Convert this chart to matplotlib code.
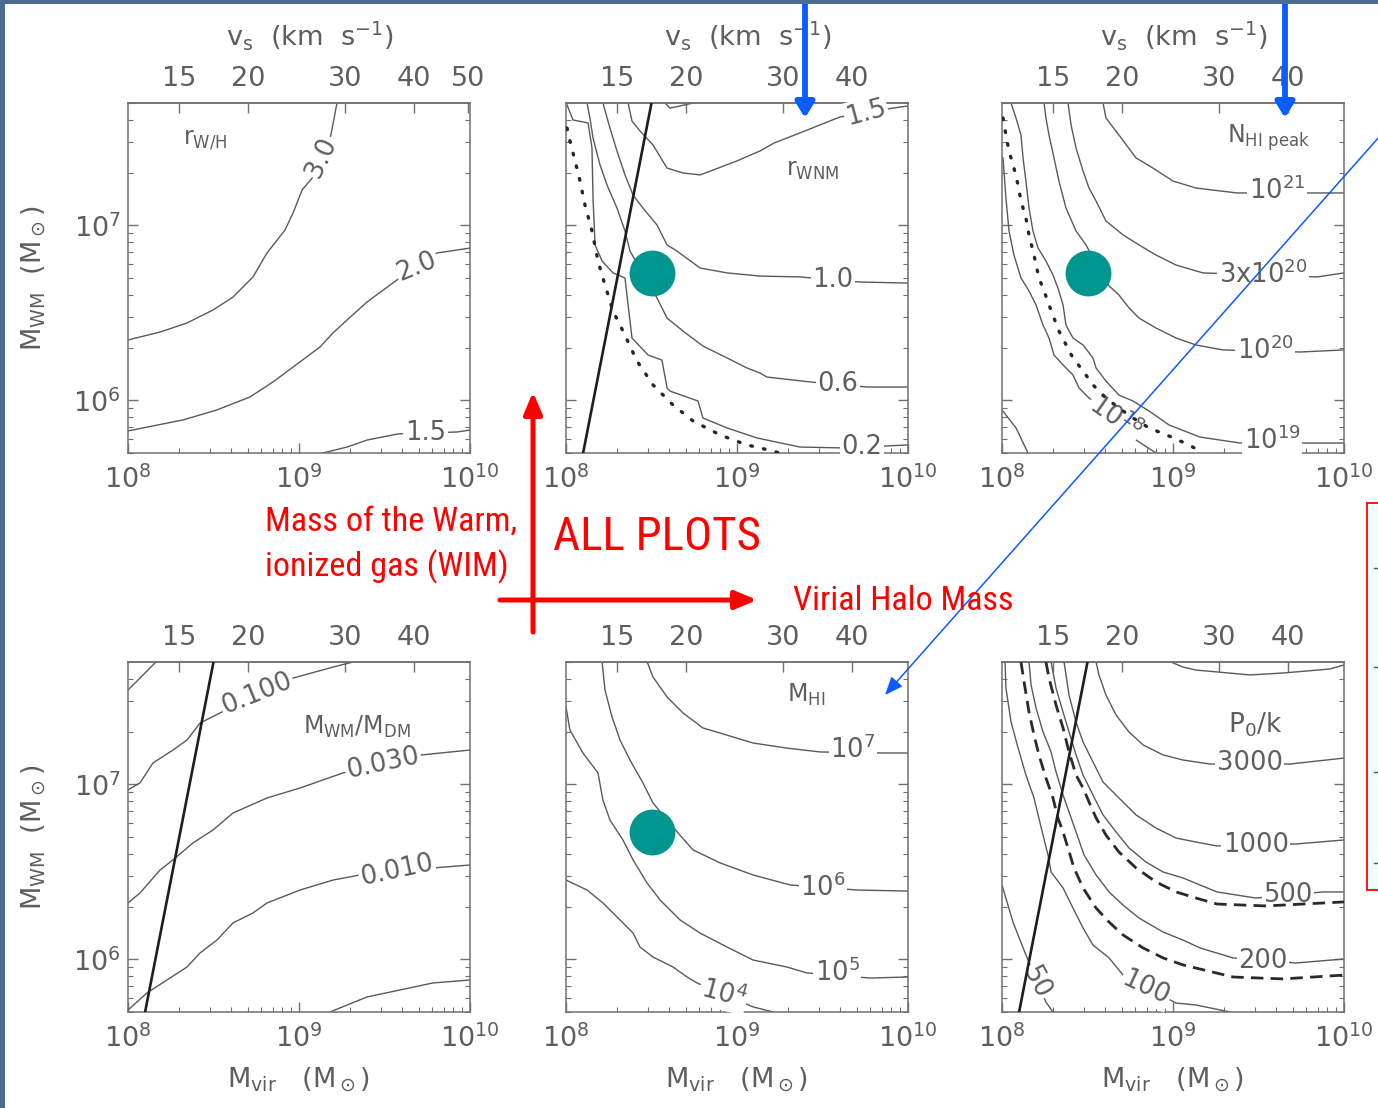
import numpy as np
import matplotlib
matplotlib.use("Agg")
import matplotlib.pyplot as plt
from matplotlib import font_manager
from matplotlib.font_manager import FontProperties
from matplotlib.patches import Rectangle, FancyArrowPatch
from matplotlib.lines import Line2D
from matplotlib.ticker import (FixedLocator, NullLocator, LogLocator,
                               FuncFormatter, NullFormatter)

# ------------------------------------------------------------------
# Axis ranges (halo virial mass, warm-gas mass) and shock-speed ticks
# ------------------------------------------------------------------
MVIR_LIM = (1e8, 1e10)
MWM_LIM = (5e5, 5e7)
VS_TICKS_FIRST = [15, 20, 30, 40, 50]
VS_TICKS = [15, 20, 30, 40]
VS_AT_1E10 = 50.5        # km/s at Mvir = 1e10
VS_SLOPE = 0.31          # d log v_s / d log Mvir

# Tracks below are (log10 Mvir, log10 M_WM) pairs

# bold reference line (panels r_WNM, M_WM/M_DM, P0/k)
ref_line = [(8.10, 5.699), (8.50, 7.699)]
# model galaxy
model_point = (8.50, 6.73)

# ---- r_W/H ----
rwh_3p0 = [(9.222, 7.699), (9.181, 7.488), (9.082, 7.276), (9.018, 7.202),
           (8.965, 7.070), (8.918, 6.973), (8.813, 6.842), (8.731, 6.705),
           (8.614, 6.590), (8.497, 6.516), (8.345, 6.442), (8.187, 6.390),
           (8.0, 6.345)]
rwh_2p0 = [(10.0, 6.870), (9.807, 6.842), (9.573, 6.688), (9.398, 6.562),
           (9.281, 6.459), (9.199, 6.385), (9.123, 6.305), (8.965, 6.190),
           (8.848, 6.105), (8.713, 6.019), (8.520, 5.945), (8.322, 5.888),
           (8.0, 5.825)]
rwh_1p5 = [(10.0, 5.830), (9.924, 5.819), (9.579, 5.808), (9.398, 5.773),
           (9.281, 5.733), (9.140, 5.699)]
rwh_labels = [("3.0", 9.13, 7.39, 65), ("2.0", 9.69, 6.765, 22),
              ("1.5", 9.74, 5.815, 0)]

# ---- r_WNM ----
wnm_1p5 = [(8.363, 7.699), (8.386, 7.596), (8.433, 7.539), (8.509, 7.459),
           (8.591, 7.327), (8.684, 7.299), (8.784, 7.288), (8.860, 7.316),
           (9.000, 7.368), (9.135, 7.425), (9.216, 7.470), (9.368, 7.528),
           (9.602, 7.619), (9.912, 7.670), (10.0, 7.682)]
wnm_arc = [(8.579, 7.699), (8.608, 7.670), (8.667, 7.682), (8.743, 7.699)]
wnm_1p0 = [(8.216, 7.699), (8.257, 7.556), (8.298, 7.425), (8.345, 7.288),
           (8.392, 7.173), (8.450, 7.099), (8.532, 7.002), (8.591, 6.888),
           (8.649, 6.853), (8.784, 6.756), (8.942, 6.728), (9.135, 6.710),
           (9.368, 6.705), (9.719, 6.676), (10.0, 6.670)]
wnm_0p6 = [(8.123, 7.699), (8.140, 7.613), (8.158, 7.499), (8.199, 7.345),
           (8.240, 7.230), (8.298, 7.099), (8.345, 6.968), (8.374, 6.853),
           (8.532, 6.585), (8.591, 6.470), (8.684, 6.396), (8.801, 6.310),
           (8.942, 6.242), (9.058, 6.185), (9.135, 6.156), (9.175, 6.133),
           (9.427, 6.105), (9.760, 6.076), (10.0, 6.076)]
wnm_0p2 = [(8.006, 7.688), (8.041, 7.602), (8.129, 7.585), (8.152, 7.442),
           (8.158, 7.156), (8.170, 6.888), (8.211, 6.796), (8.275, 6.728),
           (8.345, 6.699), (8.363, 6.545), (8.386, 6.356), (8.480, 6.259),
           (8.561, 6.230), (8.591, 6.071), (8.608, 6.053), (8.772, 5.996),
           (8.801, 5.899), (8.942, 5.842), (9.117, 5.785), (9.368, 5.733),
           (9.620, 5.728), (10.0, 5.745)]
wnm_dotted = [(8.006, 7.556), (8.023, 7.482), (8.053, 7.368), (8.082, 7.253),
              (8.111, 7.116), (8.152, 6.968), (8.187, 6.796), (8.228, 6.659),
              (8.275, 6.510), (8.333, 6.396), (8.415, 6.225), (8.509, 6.088),
              (8.626, 5.973), (8.743, 5.882), (8.901, 5.802), (9.058, 5.745),
              (9.135, 5.728), (9.251, 5.699)]
wnm_labels = [("1.5", 9.754, 7.645, 15), ("1.0", 9.561, 6.69, 0),
              ("0.6", 9.591, 6.091, 0), ("0.2", 9.731, 5.735, 0)]

# ---- N_HI peak ----
nhi_21 = [(8.591, 7.699), (8.608, 7.613), (8.684, 7.516), (8.784, 7.385),
          (8.883, 7.327), (9.000, 7.253), (9.135, 7.213), (9.374, 7.185),
          (9.801, 7.185), (10.0, 7.185)]
nhi_3e20 = [(8.386, 7.699), (8.404, 7.573), (8.433, 7.442), (8.474, 7.310),
            (8.509, 7.213), (8.550, 7.139), (8.608, 7.025), (8.708, 6.945),
            (8.801, 6.888), (8.901, 6.830), (9.018, 6.773), (9.175, 6.728),
            (9.842, 6.705), (10.0, 6.728)]
nhi_20 = [(8.246, 7.699), (8.257, 7.613), (8.275, 7.516), (8.304, 7.385),
          (8.333, 7.253), (8.374, 7.099), (8.433, 6.968), (8.491, 6.888),
          (8.620, 6.659), (8.684, 6.602), (8.743, 6.528), (8.801, 6.470),
          (8.901, 6.413), (9.018, 6.356), (9.135, 6.316), (9.292, 6.288),
          (9.743, 6.276), (10.0, 6.288)]
nhi_19 = [(8.053, 7.699), (8.082, 7.613), (8.111, 7.516), (8.123, 7.385),
          (8.140, 7.253), (8.158, 7.099), (8.181, 6.968), (8.211, 6.870),
          (8.257, 6.796), (8.298, 6.716), (8.327, 6.642), (8.357, 6.545),
          (8.374, 6.430), (8.415, 6.356), (8.474, 6.316), (8.532, 6.242),
          (8.550, 6.185), (8.608, 6.110), (8.684, 6.030), (8.766, 5.996),
          (8.860, 5.939), (8.977, 5.859), (9.158, 5.790), (9.392, 5.756),
          (9.801, 5.756), (10.0, 5.756)]
nhi_18 = [(8.006, 7.385), (8.023, 7.156), (8.041, 6.968), (8.070, 6.830),
          (8.111, 6.699), (8.158, 6.625), (8.199, 6.545), (8.240, 6.430),
          (8.275, 6.356), (8.304, 6.259), (8.357, 6.202), (8.415, 6.145),
          (8.450, 6.071), (8.509, 6.013), (8.567, 5.973), (8.784, 5.773),
          (8.901, 5.699)]
nhi_corner = [(8.0, 5.945), (8.082, 5.842), (8.152, 5.699)]
nhi_dotted = [(8.006, 7.613), (8.023, 7.516), (8.041, 7.425), (8.070, 7.327),
              (8.094, 7.230), (8.111, 7.139), (8.140, 7.042), (8.158, 6.945),
              (8.187, 6.830), (8.216, 6.699), (8.246, 6.625), (8.275, 6.545),
              (8.304, 6.470), (8.333, 6.396), (8.363, 6.339), (8.415, 6.242),
              (8.474, 6.168), (8.532, 6.088), (8.608, 6.013), (8.684, 5.956),
              (8.766, 5.899), (8.860, 5.842), (8.977, 5.796), (9.094, 5.745),
              (9.135, 5.722)]
nhi_labels = [(r"$10^{21}$", 9.608, 7.195, 0), (r"$3x10^{20}$", 9.526, 6.715, 0),
              (r"$10^{20}$", 9.538, 6.285, 0), (r"$10^{19}$", 9.579, 5.768, 0),
              (r"$10^{18}$", 8.66, 5.90, -35)]

# ---- M_WM / M_DM ----
dm_top = [(8.0, 7.539), (8.070, 7.607), (8.163, 7.699)]
dm_0100 = [(8.0, 6.968), (8.070, 7.008), (8.146, 7.122), (8.263, 7.196),
           (8.345, 7.253), (8.421, 7.350), (8.538, 7.408), (8.965, 7.607),
           (9.199, 7.670), (9.316, 7.699)]
dm_0030 = [(8.0, 6.322), (8.070, 6.379), (8.187, 6.510), (8.263, 6.568),
           (8.380, 6.665), (8.497, 6.739), (8.614, 6.836), (8.813, 6.922),
           (9.006, 6.979), (9.257, 7.065), (9.708, 7.167), (10.0, 7.196)]
dm_0010 = [(8.0, 5.710), (8.111, 5.808), (8.228, 5.882), (8.345, 5.956),
           (8.421, 6.036), (8.520, 6.110), (8.614, 6.208), (8.731, 6.265),
           (8.813, 6.322), (9.006, 6.396), (9.199, 6.453), (9.357, 6.482),
           (9.784, 6.522), (10.0, 6.539)]
dm_0003 = [(9.181, 5.699), (9.398, 5.785), (9.591, 5.825), (9.784, 5.865),
           (10.0, 5.882)]
dm_labels = [("0.100", 8.754, 7.52, 22), ("0.030", 9.491, 7.122, 12),
             ("0.010", 9.573, 6.51, 12)]

# ---- M_HI ----
hi_7 = [(8.475, 7.699), (8.509, 7.613), (8.591, 7.499), (8.684, 7.408),
        (8.801, 7.322), (8.901, 7.293), (9.094, 7.236), (9.292, 7.207),
        (9.485, 7.185), (9.854, 7.179), (10.0, 7.179)]
hi_6 = [(8.211, 7.699), (8.228, 7.539), (8.269, 7.385), (8.316, 7.253),
        (8.374, 7.139), (8.450, 7.008), (8.509, 6.893), (8.655, 6.722),
        (8.743, 6.625), (8.901, 6.551), (9.094, 6.482), (9.310, 6.425),
        (9.702, 6.396), (10.0, 6.390)]
hi_5 = [(8.0, 7.442), (8.023, 7.310), (8.099, 7.179), (8.187, 7.065),
        (8.216, 6.910), (8.257, 6.796), (8.333, 6.682), (8.392, 6.568),
        (8.474, 6.436), (8.550, 6.339), (8.667, 6.225), (8.784, 6.150),
        (8.942, 6.070), (9.094, 5.996), (9.292, 5.956), (9.409, 5.922),
        (9.778, 5.893), (10.0, 5.899)]
hi_4 = [(8.0, 6.453), (8.123, 6.396), (8.216, 6.322), (8.316, 6.225),
        (8.392, 6.150), (8.433, 6.070), (8.509, 6.013), (8.626, 5.956),
        (8.708, 5.899), (8.766, 5.865), (9.094, 5.728), (9.211, 5.699)]
hi_labels = [(r"$10^{7}$", 9.678, 7.20, 0), (r"$10^{6}$", 9.503, 6.41, 0),
             (r"$10^{5}$", 9.585, 5.925, 0), (r"$10^{4}$", 8.92, 5.80, -15)]

# ---- P0/k ----
pk_top = [(8.988, 7.699), (9.058, 7.670), (9.135, 7.653), (9.450, 7.625),
          (9.643, 7.636), (9.918, 7.659), (10.0, 7.682)]
pk_3000 = [(8.550, 7.699), (8.567, 7.625), (8.608, 7.510), (8.667, 7.396),
           (8.743, 7.299), (8.825, 7.225), (8.942, 7.168), (9.058, 7.139),
           (9.216, 7.116), (9.684, 7.116), (10.0, 7.150)]
pk_1000 = [(8.363, 7.699), (8.392, 7.510), (8.433, 7.356), (8.474, 7.242),
           (8.532, 7.128), (8.591, 7.013), (8.684, 6.922), (8.784, 6.825),
           (8.901, 6.750), (9.018, 6.693), (9.135, 6.670), (9.257, 6.648),
           (9.719, 6.659), (10.0, 6.682)]
pk_500 = [(8.287, 7.699), (8.316, 7.550), (8.357, 7.413), (8.392, 7.299),
          (8.433, 7.168), (8.474, 7.053), (8.532, 6.939), (8.591, 6.825),
          (8.667, 6.728), (8.743, 6.636), (8.842, 6.556), (8.942, 6.499),
          (9.058, 6.465), (9.257, 6.385), (9.485, 6.350), (9.877, 6.385),
          (10.0, 6.385)]
pk_200 = [(8.158, 7.699), (8.170, 7.568), (8.199, 7.436), (8.240, 7.299),
          (8.287, 7.185), (8.316, 7.071), (8.357, 6.939), (8.392, 6.842),
          (8.433, 6.728), (8.480, 6.596), (8.550, 6.482), (8.626, 6.385),
          (8.708, 6.310), (8.801, 6.236), (8.942, 6.156), (9.058, 6.110),
          (9.158, 6.065), (9.351, 6.008), (9.719, 5.979), (10.0, 6.002)]
pk_100 = [(8.018, 7.699), (8.023, 7.550), (8.053, 7.356), (8.094, 7.208),
          (8.140, 7.053), (8.187, 6.922), (8.211, 6.825), (8.240, 6.710),
          (8.269, 6.596), (8.287, 6.499), (8.357, 6.408), (8.415, 6.293),
          (8.474, 6.179), (8.532, 6.082), (8.626, 6.008), (8.708, 5.910),
          (9.018, 5.750), (9.135, 5.739), (9.333, 5.699)]
pk_50 = [(8.0, 6.425), (8.064, 6.213), (8.140, 6.025), (8.257, 5.756),
         (8.298, 5.699)]
pk_dash_hi = [(8.257, 7.699), (8.275, 7.607), (8.316, 7.453), (8.357, 7.322),
              (8.392, 7.185), (8.433, 7.053), (8.474, 6.979), (8.509, 6.899),
              (8.550, 6.808), (8.608, 6.710), (8.684, 6.613), (8.784, 6.522),
              (8.901, 6.442), (9.018, 6.385), (9.135, 6.350), (9.257, 6.316),
              (9.544, 6.305), (10.0, 6.328)]
pk_dash_lo = [(8.111, 7.699), (8.129, 7.585), (8.158, 7.413), (8.187, 7.282),
              (8.216, 7.168), (8.257, 7.036), (8.298, 6.922), (8.327, 6.808),
              (8.357, 6.728), (8.386, 6.636), (8.421, 6.522), (8.474, 6.408),
              (8.550, 6.293), (8.626, 6.213), (8.708, 6.139), (8.825, 6.065),
              (8.942, 6.008), (9.058, 5.968), (9.351, 5.899), (9.643, 5.888),
              (10.0, 5.910)]
pk_labels = [("3000", 9.450, 7.12, 0), ("1000", 9.485, 6.655, 0),
             ("500", 9.673, 6.37, 0), ("200", 9.526, 5.99, 0),
             ("100", 8.842, 5.835, -25), ("50", 8.20, 5.87, -62)]

# ------------------------------------------------------------------
# Style
# ------------------------------------------------------------------
W, H = 1378, 1108
TXT = "#5e5e5e"
AXC = "#707070"
CLINE = "#5a5a5a"
TEAL = "#00968f"
RED = "#ff0000"
BLUE = "#0a5cff"

plt.rcParams["font.family"] = ["DejaVu Sans"]
plt.rcParams["mathtext.fontset"] = "dejavusans"
plt.rcParams["mathtext.default"] = "regular"


def _upright_regular(f):
    return f.style == "normal" and f.weight in (400, "normal", "regular")


def pick_note_font():
    """Prefer an upright narrow sans face for the slide notes."""
    fl = font_manager.fontManager.ttflist
    for name in ("Liberation Sans Narrow", "Arial Narrow", "Roboto Condensed",
                 "Open Sans Condensed", "Noto Sans Condensed"):
        for f in fl:
            if f.name == name and _upright_regular(f):
                return FontProperties(fname=f.fname), 1.0
    for f in fl:
        if (f.name in ("Liberation Sans", "DejaVu Sans", "Noto Sans",
                       "Roboto", "Open Sans")
                and str(f.stretch) in ("condensed", "semi-condensed", "75", "87.5")
                and _upright_regular(f)):
            return FontProperties(fname=f.fname), 1.0
    return FontProperties(family="Liberation Sans"), 0.86


NOTE_FP, NOTE_SCALE = pick_note_font()


def mvir_to_vs(m):
    m = np.asarray(m, dtype=float)
    return VS_AT_1E10 * (np.clip(m, 1e-30, None) / 1e10) ** VS_SLOPE


def vs_to_mvir(v):
    v = np.asarray(v, dtype=float)
    return 1e10 * (np.clip(v, 1e-30, None) / VS_AT_1E10) ** (1.0 / VS_SLOPE)


def px(x, y):
    return (x / W, 1.0 - y / H)


def setup_axes(ax, vs_ticks, left_labels):
    ax.set_xscale("log")
    ax.set_yscale("log")
    ax.set_xlim(*MVIR_LIM)
    ax.set_ylim(*MWM_LIM)
    for sp in ax.spines.values():
        sp.set_color(AXC)
        sp.set_linewidth(1.1)
    fmt = FuncFormatter(lambda v, _: r"$10^{%d}$" % round(np.log10(v)))
    ax.xaxis.set_major_locator(FixedLocator([1e8, 1e9, 1e10]))
    ax.yaxis.set_major_locator(FixedLocator([1e6, 1e7]))
    for axis in (ax.xaxis, ax.yaxis):
        axis.set_minor_locator(LogLocator(base=10, subs=np.arange(2, 10), numticks=20))
        axis.set_major_formatter(fmt)
        axis.set_minor_formatter(NullFormatter())
    ax.tick_params(which="both", direction="in", top=False, right=True,
                   color=AXC, labelcolor=TXT, labelsize=19.5)
    ax.tick_params(which="major", length=7, width=1.0)
    ax.tick_params(which="minor", length=3.5, width=0.8)
    ax.tick_params(axis="x", pad=9)
    ax.tick_params(axis="y", pad=5, labelleft=left_labels)
    sec = ax.secondary_xaxis("top", functions=(mvir_to_vs, vs_to_mvir))
    sec.set_xticks(vs_ticks, labels=[str(v) for v in vs_ticks])
    sec.xaxis.set_minor_locator(NullLocator())
    sec.tick_params(direction="in", length=7, width=1.0, color=AXC,
                    labelcolor=TXT, labelsize=19.5, pad=8)
    for sp in sec.spines.values():
        sp.set_color(AXC)
        sp.set_linewidth(1.1)
    return sec


def trace(ax, pts, **kw):
    a = np.asarray(pts, dtype=float)
    style = dict(color=CLINE, lw=1.0, zorder=2)
    style.update(kw)
    ax.plot(10 ** a[:, 0], 10 ** a[:, 1], **style)


def tag(ax, labels):
    for text, lx, ly, rot in labels:
        ax.text(10 ** lx, 10 ** ly, text, rotation=rot, rotation_mode="anchor",
                ha="center", va="center", fontsize=18.5, color=TXT, zorder=3,
                bbox=dict(boxstyle="square,pad=0.06", fc="white", ec="none"))


def bold_line(ax):
    trace(ax, ref_line, color="#1e1e1e", lw=1.9, zorder=4)


def dot_line(ax, pts):
    trace(ax, pts, color="#262626", lw=2.4, ls=(0, (0.5, 3.4)),
          dash_capstyle="round", zorder=4)


def dash_line(ax, pts):
    trace(ax, pts, color="#2a2a2a", lw=2.0, ls=(0, (4.5, 2.6)), zorder=4)


def model_dot(ax):
    ax.plot(10 ** model_point[0], 10 ** model_point[1], "o", ms=33,
            color=TEAL, mec="none", zorder=6)


# ------------------------------------------------------------------
# Figure
# ------------------------------------------------------------------
fig = plt.figure(figsize=(W / 100, H / 100), dpi=100)
fig.patch.set_facecolor("white")

col_left = [128, 566, 1002]
row_top = [103, 662]
AW, AH = 342, 350


def make_axes(col, row):
    l = col_left[col] / W
    b = 1 - (row_top[row] + AH) / H
    return fig.add_axes([l, b, AW / W, AH / H])


ax1 = make_axes(0, 0)
ax2 = make_axes(1, 0)
ax3 = make_axes(2, 0)
ax4 = make_axes(0, 1)
ax5 = make_axes(1, 1)
ax6 = make_axes(2, 1)

setup_axes(ax1, VS_TICKS_FIRST, True)
setup_axes(ax4, VS_TICKS, True)
for a in (ax2, ax3, ax5, ax6):
    setup_axes(a, VS_TICKS, False)

# panel: r_W/H
for c in (rwh_3p0, rwh_2p0, rwh_1p5):
    trace(ax1, c)
tag(ax1, rwh_labels)
ax1.text(0.225, 0.894, r"r$_{\rm W/H}$", transform=ax1.transAxes,
         ha="center", va="center", fontsize=17, color=TXT)

# panel: r_WNM
for c in (wnm_1p5, wnm_arc, wnm_1p0, wnm_0p6, wnm_0p2):
    trace(ax2, c)
dot_line(ax2, wnm_dotted)
tag(ax2, wnm_labels)
bold_line(ax2)
model_dot(ax2)
ax2.text(0.72, 0.809, r"r$_{\rm WNM}$", transform=ax2.transAxes,
         ha="center", va="center", fontsize=17, color=TXT)

# panel: N_HI peak
for c in (nhi_21, nhi_3e20, nhi_20, nhi_19, nhi_18, nhi_corner):
    trace(ax3, c)
tag(ax3, nhi_labels)
dot_line(ax3, nhi_dotted)
model_dot(ax3)
ax3.text(0.778, 0.90, r"N$_{\rm HI\ peak}$", transform=ax3.transAxes,
         ha="center", va="center", fontsize=17, color=TXT)

# panel: M_WM / M_DM
for c in (dm_top, dm_0100, dm_0030, dm_0010, dm_0003):
    trace(ax4, c)
tag(ax4, dm_labels)
bold_line(ax4)
ax4.text(0.67, 0.814, r"M$_{\rm WM}$/M$_{\rm DM}$", transform=ax4.transAxes,
         ha="center", va="center", fontsize=17, color=TXT)

# panel: M_HI
for c in (hi_7, hi_6, hi_5, hi_4):
    trace(ax5, c)
tag(ax5, hi_labels)
model_dot(ax5)
ax5.text(0.702, 0.906, r"M$_{\rm HI}$", transform=ax5.transAxes,
         ha="center", va="center", fontsize=17, color=TXT)

# panel: P0/k
for c in (pk_top, pk_3000, pk_1000, pk_500, pk_200, pk_100, pk_50):
    trace(ax6, c)
tag(ax6, pk_labels)
dash_line(ax6, pk_dash_hi)
dash_line(ax6, pk_dash_lo)
bold_line(ax6)
ax6.text(0.74, 0.82, r"P$_0$/k", transform=ax6.transAxes,
         ha="center", va="center", fontsize=19, color=TXT)

# axis titles
for a in (ax1, ax2, ax3):
    a.text(0.53, 1.194, r"v$_{\rm s}$  (km  s$^{-1}$)", transform=a.transAxes,
           ha="center", va="center", fontsize=19.5, color=TXT)
for a in (ax4, ax5, ax6):
    a.text(0.5, -0.195, r"M$_{\rm vir}$   (M$_\odot$)", transform=a.transAxes,
           ha="center", va="center", fontsize=19.5, color=TXT)
for a in (ax1, ax4):
    a.text(-0.272, 0.5, r"M$_{\rm WM}$  (M$_\odot$)", transform=a.transAxes,
           ha="center", va="center", rotation=90, fontsize=19.5, color=TXT)

# ------------------------------------------------------------------
# Slide overlay: border, notes and pointers
# ------------------------------------------------------------------
fig.add_artist(Rectangle(px(0, H), 5 / W, 1, transform=fig.transFigure,
                         fc="#4b6b93", ec="none", zorder=30))
fig.add_artist(Rectangle(px(0, 4), 1, 4 / H, transform=fig.transFigure,
                         fc="#4b6b93", ec="none", zorder=30))

# side box
fig.add_artist(Rectangle(px(1367, 890), 40 / W, (890 - 503) / H,
                         transform=fig.transFigure, fc="#ebffff", ec=RED,
                         lw=1.3, zorder=25))
for yy in (568, 667, 772, 863):
    fig.add_artist(Line2D([1374 / W, 1378 / W], [1 - yy / H] * 2,
                          transform=fig.transFigure, color="#555555",
                          lw=1.0, zorder=26))


def fig_arrow(p0, p1, color, lw, hl, hw):
    fig.add_artist(FancyArrowPatch(
        px(*p0), px(*p1), transform=fig.transFigure,
        arrowstyle=f"-|>,head_length={hl},head_width={hw}", mutation_scale=1,
        lw=lw, color=color, shrinkA=0, shrinkB=0, zorder=28))


# red axes sketch
fig_arrow((533, 632), (533, 392), RED, 3.6, 13, 5.5)
fig_arrow((500, 600), (757, 600), RED, 3.6, 13, 5.5)

# blue pointers
fig_arrow((805, -6), (805, 118), BLUE, 4.2, 9, 5.5)
fig_arrow((1285, -6), (1285, 118), BLUE, 4.2, 9, 5.5)
fig_arrow((1395, 119), (885, 695), BLUE, 1.1, 11, 4.5)

note_kw = dict(fontproperties=NOTE_FP, color=RED, ha="left", va="center",
               zorder=29)
fig.text(*px(265, 522), "Mass of the Warm,", fontsize=24.6 * NOTE_SCALE, **note_kw)
fig.text(*px(265, 567), "ionized gas (WIM)", fontsize=24.6 * NOTE_SCALE, **note_kw)
fig.text(*px(553, 537), "ALL PLOTS", fontsize=33.8 * NOTE_SCALE, **note_kw)
fig.text(*px(793, 601), "Virial Halo Mass", fontsize=24.6 * NOTE_SCALE, **note_kw)

fig.savefig("out.png", dpi=100, facecolor="white")
